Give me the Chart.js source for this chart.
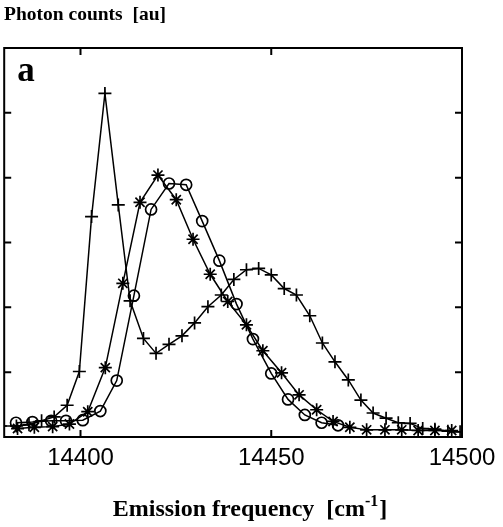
<!DOCTYPE html>
<html>
<head>
<meta charset="utf-8">
<script src="https://cdn.jsdelivr.net/npm/chart.js@4.4.1/dist/chart.umd.min.js"></script>
<style>
  html, body { margin: 0; padding: 0; background: #fff; overflow: hidden; }
  #wrap { width: 503px; height: 527px; position: relative; overflow: hidden; }
  #c { position: absolute; left: -4px; top: 0; }
</style>
</head>
<body>
<div id="wrap"><canvas id="c" width="507" height="527"></canvas></div>
<script>
// ---- data ----
const xTicks = [14400, 14450, 14500];
const yTicks = [1, 2, 3, 4, 5];

const freqPlus = [14379.0, 14383.2, 14386.5, 14389.8, 14393.1, 14396.5, 14399.7, 14402.9, 14406.4, 14409.9,
  14413.0, 14416.5, 14419.8, 14423.2, 14426.6, 14429.9, 14433.4, 14436.9, 14440.2, 14443.5,
  14446.7, 14450.0, 14453.4, 14456.6, 14460.1, 14463.4, 14466.7, 14470.2, 14473.5, 14476.7,
  14480.1, 14483.3, 14486.4, 14489.7, 14492.9, 14496.3, 14499.5];
const countsPlus = [0.17, 0.17, 0.19, 0.25, 0.31, 0.49, 1.01, 3.40, 5.30, 3.58,
  2.10, 1.52, 1.29, 1.43, 1.56, 1.76, 2.01, 2.19, 2.43, 2.58,
  2.60, 2.50, 2.29, 2.19, 1.87, 1.45, 1.16, 0.88, 0.57, 0.37,
  0.29, 0.22, 0.21, 0.13, 0.12, 0.09, 0.08];

const freqStar = [14383.5, 14387.9, 14392.7, 14397.1, 14401.9, 14406.5, 14411.1, 14415.6, 14420.3, 14425.1,
  14429.5, 14434.0, 14438.6, 14443.5, 14447.8, 14452.7, 14457.3, 14461.9, 14466.2, 14470.6,
  14475.0, 14479.8, 14484.2, 14488.5, 14492.9, 14497.3];
const countsStar = [0.13, 0.15, 0.16, 0.20, 0.39, 1.07, 2.37, 3.62, 4.04, 3.66,
  3.05, 2.51, 2.09, 1.73, 1.33, 0.99, 0.65, 0.42, 0.24, 0.15,
  0.11, 0.11, 0.11, 0.10, 0.10, 0.10];

const freqCircle = [14383.1, 14387.4, 14392.3, 14396.2, 14400.6, 14405.2, 14409.5, 14414.0, 14418.5, 14423.2,
  14427.7, 14431.9, 14436.4, 14440.9, 14445.2, 14450.0, 14454.4, 14458.8, 14463.2, 14467.5];
const countsCircle = [0.22, 0.23, 0.25, 0.25, 0.26, 0.40, 0.87, 2.18, 3.51, 3.91,
  3.89, 3.33, 2.72, 2.05, 1.51, 0.98, 0.58, 0.34, 0.22, 0.18];

const panelLabel = 'a';
const yTitle = 'Photon counts  [au]';
const xTitle = 'Emission frequency  [cm';
const xTitleSup = '-1';

// ---- helpers ----
const SHIFT = 4; // canvas is offset 4px to the left inside the page
const pts = (xs, ys) => xs.map((x, i) => ({ x: x, y: ys[i] }));
const SERIF = '"Liberation Serif", "Times New Roman", serif';
const SANS = '"Liberation Sans", Arial, sans-serif';

const framePlugin = {
  id: 'frame',
  afterDraw(chart) {
    const { ctx, chartArea, scales } = chart;
    const { left, right, top, bottom } = chartArea;
    const x = scales.x, y = scales.y;
    ctx.save();
    ctx.strokeStyle = '#000';
    ctx.lineWidth = 2;
    ctx.strokeRect(left, top, right - left, bottom - top);
    ctx.beginPath();
    const tl = 7;
    xTicks.forEach(v => {
      const px = x.getPixelForValue(v);
      ctx.moveTo(px, bottom); ctx.lineTo(px, bottom - tl);
      ctx.moveTo(px, top); ctx.lineTo(px, top + tl);
    });
    yTicks.forEach(v => {
      const py = y.getPixelForValue(v);
      ctx.moveTo(left, py); ctx.lineTo(left + tl, py);
      ctx.moveTo(right, py); ctx.lineTo(right - tl, py);
    });
    ctx.stroke();

    ctx.fillStyle = '#000';
    ctx.textBaseline = 'alphabetic';
    ctx.textAlign = 'left';
    // y title (top-left)
    ctx.font = 'bold 19.5px ' + SERIF;
    ctx.fillText(yTitle, 4 + SHIFT, 20);
    // panel label
    ctx.font = 'bold 35px ' + SERIF;
    ctx.fillText(panelLabel, left + 13, top + 33);
    // x title with superscript
    const big = 'bold 24px ' + SERIF, small = 'bold 16px ' + SERIF;
    ctx.font = big;
    const w1 = ctx.measureText(xTitle).width;
    ctx.font = small;
    const w2 = ctx.measureText(xTitleSup).width;
    ctx.font = big;
    const w3 = ctx.measureText(']').width;
    const total = w1 + w2 + w3 + 1;
    const sx = 250 + SHIFT - total / 2;
    const by = 516;
    ctx.fillText(xTitle, sx, by);
    ctx.font = small;
    ctx.fillText(xTitleSup, sx + w1, by - 10);
    ctx.font = big;
    ctx.fillText(']', sx + w1 + w2 + 1, by);
    ctx.restore();
  }
};

const common = {
  borderColor: '#000',
  borderWidth: 1.5,
  pointBorderColor: '#000',
  pointBackgroundColor: 'rgba(0,0,0,0)',
  pointBorderWidth: 1.7,
  tension: 0,
  fill: false
};

new Chart(document.getElementById('c'), {
  type: 'line',
  data: {
    datasets: [
      Object.assign({ label: 'plus', data: pts(freqPlus, countsPlus), pointStyle: 'cross', pointRadius: 6.5 }, common),
      Object.assign({ label: 'star', data: pts(freqStar, countsStar), pointStyle: 'star', pointRadius: 6.5 }, common),
      Object.assign({ label: 'circle', data: pts(freqCircle, countsCircle), pointStyle: 'circle', pointRadius: 5.5 }, common)
    ]
  },
  options: {
    responsive: false,
    animation: false,
    devicePixelRatio: 1,
    layout: { padding: { left: 4, right: 41, top: 48, bottom: 0 } },
    plugins: { legend: { display: false }, tooltip: { enabled: false }, title: { display: false } },
    scales: {
      x: {
        type: 'linear',
        min: 14380,
        max: 14500,
        grid: { display: false, drawTicks: false },
        border: { display: false },
        ticks: {
          stepSize: 50,
          includeBounds: false,
          color: '#000',
          padding: 7,
          maxRotation: 0,
          font: { family: SANS, size: 24 },
          callback: v => String(v)
        },
        afterFit: s => { s.height = 90; }
      },
      y: {
        type: 'linear',
        display: false,
        min: 0,
        max: 6,
        ticks: { stepSize: 1 }
      }
    }
  },
  plugins: [framePlugin]
});
</script>
</body>
</html>
